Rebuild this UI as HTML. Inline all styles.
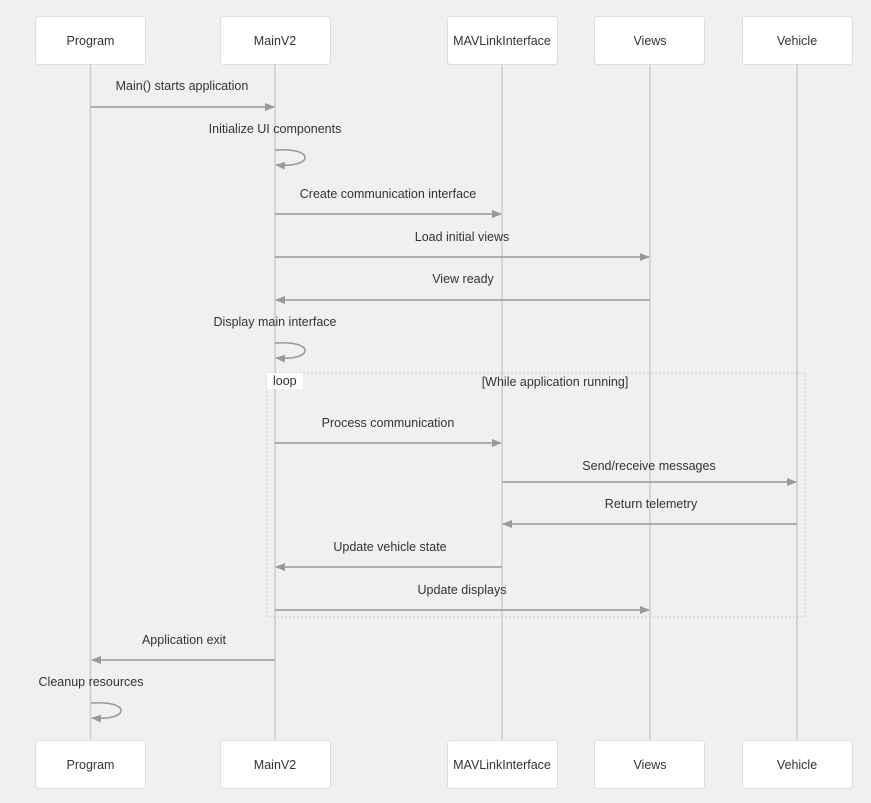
<!DOCTYPE html>
<html><head><meta charset="utf-8"><style>
html,body{margin:0;padding:0;background:#f1f0ef;}
svg{display:block;font-family:"Liberation Sans",sans-serif;}
text{font-size:12.5px;fill:#333;}
</style></head><body>
<svg width="871" height="803" viewBox="0 0 871 803" xmlns="http://www.w3.org/2000/svg">
<defs><marker id="a" markerWidth="10" markerHeight="10" refX="9" refY="5" orient="auto" markerUnits="userSpaceOnUse"><path d="M0,1 L10,5 L0,9 z" fill="#999"/></marker></defs>
<g stroke="#ccc" stroke-width="1.5">
<line x1="90.5" y1="64" x2="90.5" y2="740"/>
<line x1="275" y1="64" x2="275" y2="740"/>
<line x1="502" y1="64" x2="502" y2="740"/>
<line x1="650" y1="64" x2="650" y2="740"/>
<line x1="797" y1="64" x2="797" y2="740"/>
</g>
<rect x="267" y="373" width="538" height="244" fill="none" stroke="#ccc" stroke-dasharray="2,2"/>
<rect x="267" y="373" width="36" height="16" fill="#fff"/>
<text x="273" y="385">loop</text>
<text x="555" y="386" text-anchor="middle">[While application running]</text>
<g fill="#fff" stroke="#ddd">
<rect x="35.5" y="16.5" width="110" height="48" rx="3"/>
<rect x="220.5" y="16.5" width="110" height="48" rx="3"/>
<rect x="447.5" y="16.5" width="110" height="48" rx="3"/>
<rect x="594.5" y="16.5" width="110" height="48" rx="3"/>
<rect x="742.5" y="16.5" width="110" height="48" rx="3"/>
<rect x="35.5" y="740.5" width="110" height="48" rx="3"/>
<rect x="220.5" y="740.5" width="110" height="48" rx="3"/>
<rect x="447.5" y="740.5" width="110" height="48" rx="3"/>
<rect x="594.5" y="740.5" width="110" height="48" rx="3"/>
<rect x="742.5" y="740.5" width="110" height="48" rx="3"/>
</g>
<g text-anchor="middle">
<text x="90.5" y="45">Program</text><text x="275" y="45">MainV2</text><text x="502" y="45">MAVLinkInterface</text><text x="650" y="45">Views</text><text x="797" y="45">Vehicle</text>
<text x="90.5" y="769">Program</text><text x="275" y="769">MainV2</text><text x="502" y="769">MAVLinkInterface</text><text x="650" y="769">Views</text><text x="797" y="769">Vehicle</text>
<text x="182" y="90">Main() starts application</text>
<text x="275" y="133">Initialize UI components</text>
<text x="388" y="198">Create communication interface</text>
<text x="462" y="241">Load initial views</text>
<text x="463" y="283">View ready</text>
<text x="275" y="326">Display main interface</text>
<text x="388" y="427">Process communication</text>
<text x="649" y="470">Send/receive messages</text>
<text x="651" y="508">Return telemetry</text>
<text x="390" y="551">Update vehicle state</text>
<text x="462" y="594">Update displays</text>
<text x="184" y="644">Application exit</text>
<text x="91" y="686">Cleanup resources</text>
</g>
<g stroke="#999" stroke-width="1.5" fill="none" marker-end="url(#a)">
<line x1="91" y1="107" x2="274" y2="107"/>
<path d="M275,150 C315,147 315,168 276,165"/>
<line x1="275" y1="214" x2="501" y2="214"/>
<line x1="275" y1="257" x2="649" y2="257"/>
<line x1="650" y1="300" x2="276" y2="300"/>
<path d="M275,343 C315,340 315,361 276,358"/>
<line x1="275" y1="443" x2="501" y2="443"/>
<line x1="502" y1="482" x2="796" y2="482"/>
<line x1="797" y1="524" x2="503" y2="524"/>
<line x1="502" y1="567" x2="276" y2="567"/>
<line x1="275" y1="610" x2="649" y2="610"/>
<line x1="275" y1="660" x2="92" y2="660"/>
<path d="M91,703 C131,700 131,721 92,718"/>
</g>
</svg>
</body></html>
